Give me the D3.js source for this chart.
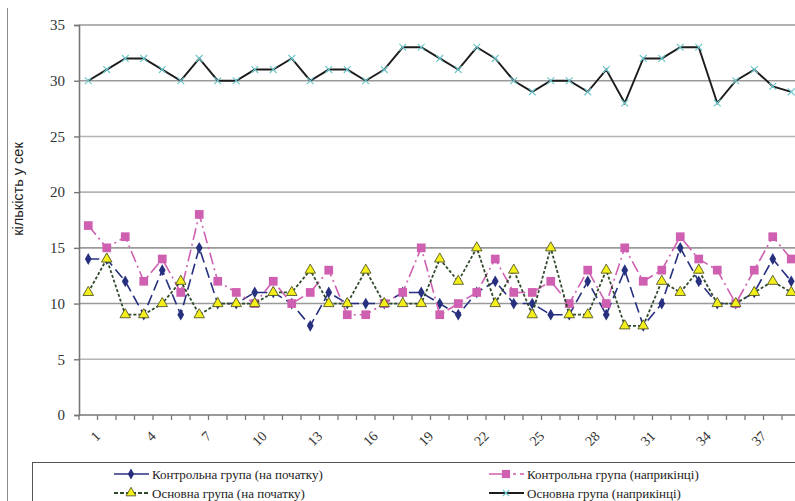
<!DOCTYPE html>
<html>
<head>
<meta charset="utf-8">
<script src="https://cdn.jsdelivr.net/npm/d3@7"></script>
<style>
  html, body { margin: 0; padding: 0; background: #fff; overflow: hidden; }
  svg { display: block; }
  .serif { font-family: "Liberation Serif", "Times New Roman", serif; }
</style>
</head>
<body>
<div id="chart"></div>
<script>
// Values (39 participants)
const categories = d3.range(1, 40).map(String);
const tickLabels = ["1", "4", "7", "10", "13", "16", "19", "22", "25", "28", "31", "34", "37"];
const yTicks = [0, 5, 10, 15, 20, 25, 30, 35];

const controlStart = [14, 14, 12, 9, 13, 9, 15, 10, 10, 11, 11, 10, 8, 11, 10, 10, 10, 11, 11, 10,
                      9, 11, 12, 10, 10, 9, 9, 12, 9, 13, 8, 10, 15, 12, 10, 10, 11, 14, 12];
const controlEnd = [17, 15, 16, 12, 14, 11, 18, 12, 11, 10, 12, 10, 11, 13, 9, 9, 10, 11, 15, 9,
                    10, 11, 14, 11, 11, 12, 10, 13, 10, 15, 12, 13, 16, 14, 13, 10, 13, 16, 14];
const mainStart = [11, 14, 9, 9, 10, 12, 9, 10, 10, 10, 11, 11, 13, 10, 10, 13, 10, 10, 10, 14,
                   12, 15, 10, 13, 9, 15, 9, 9, 13, 8, 8, 12, 11, 13, 10, 10, 11, 12, 11];
const mainEnd = [30, 31, 32, 32, 31, 30, 32, 30, 30, 31, 31, 32, 30, 31, 31, 30, 31, 33, 33, 32,
                 31, 33, 32, 30, 29, 30, 30, 29, 31, 28, 32, 32, 33, 33, 28, 30, 31, 29.5, 29];

const seriesNames = ["Контрольна група (на початку)", "Контрольна група (наприкінці)",
                     "Основна група (на початку)", "Основна група (наприкінці)"];

const width = 795, height = 501;
const margin = { left: 79, top: 25, bottom: 86 };
const band = 18.5;
const serifFont = "'Liberation Serif', 'Times New Roman', serif";

const series = [
  { name: seriesNames[0], values: controlStart, color: "#27307f", dash: "11,5", legendDash: null, width: 1.6, marker: "diamond" },
  { name: seriesNames[1], values: controlEnd, color: "#cf5fb0", dash: "12,4,2,4", legendDash: "20,4,3,4", width: 1.6, marker: "square" },
  { name: seriesNames[2], values: mainStart, color: "#2f4a2a", dash: "3,2", legendDash: "4,2", width: 1.8, marker: "triangle" },
  { name: seriesNames[3], values: mainEnd, color: "#1c1c1c", dash: null, legendDash: null, width: 1.9, marker: "cross" }
];

const svg = d3.select("#chart").append("svg")
  .attr("width", width)
  .attr("height", height)
  .attr("viewBox", [0, 0, width, height]);

// x: categories, points sit between tick marks
const x = d3.scaleBand()
  .domain(categories)
  .range([margin.left, margin.left + categories.length * band])
  .paddingInner(0).paddingOuter(0);
const cx = (d) => x(d) + x.bandwidth() / 2;

const y = d3.scaleLinear()
  .domain([0, 35])
  .range([height - margin.bottom, margin.top]);

// chart border on the left
svg.append("line")
  .attr("x1", 7.5).attr("x2", 7.5).attr("y1", 8).attr("y2", height)
  .attr("stroke", "#8a8a8a").attr("stroke-width", 1);

// gridlines
svg.append("g")
  .selectAll("line")
  .data(yTicks.filter((t) => t > 0))
  .join("line")
    .attr("x1", margin.left).attr("x2", width)
    .attr("y1", (d) => y(d)).attr("y2", (d) => y(d))
    .attr("stroke", (d) => (d === 35 || d === 30 || d === 15 || d === 10) ? "#9a9a9a" : "#b4b4b4")
    .attr("stroke-width", 1.6);

// y axis
svg.append("g")
  .attr("transform", `translate(${margin.left},0)`)
  .call(d3.axisLeft(y).tickValues(yTicks).tickSize(5).tickPadding(9))
  .call((g) => g.select(".domain").attr("stroke", "#777").attr("stroke-width", 1.6))
  .call((g) => g.selectAll(".tick line").attr("stroke", "#777").attr("stroke-width", 1.4))
  .call((g) => g.selectAll(".tick text")
      .style("font-family", serifFont)
      .style("font-size", "15px")
      .attr("fill", "#333"));

svg.append("text")
  .attr("transform", `translate(23, ${189}) rotate(-90)`)
  .attr("text-anchor", "middle")
  .style("font-family", "'Liberation Sans', Arial, sans-serif")
  .style("font-size", "14.5px")
  .attr("fill", "#222")
  .text("кількість у сек");

// x axis
const xAxis = svg.append("g")
  .attr("transform", `translate(0,${y(0)})`);
xAxis.append("line")
  .attr("x1", margin.left).attr("x2", width)
  .attr("stroke", "#777").attr("stroke-width", 1.6);
xAxis.selectAll(".edge")
  .data(categories)
  .join("line")
    .attr("class", "edge")
    .attr("x1", (d) => x(d)).attr("x2", (d) => x(d))
    .attr("y1", 0).attr("y2", 5)
    .attr("stroke", "#777").attr("stroke-width", 1.3);
xAxis.selectAll(".lbl")
  .data(tickLabels)
  .join("g")
    .attr("class", "lbl")
    .attr("transform", (d) => `translate(${cx(d) + 6},${15})`)
  .append("text")
    .attr("transform", "rotate(-45)")
    .attr("text-anchor", "end")
    .attr("dy", "0.7em")
    .style("font-family", serifFont)
    .style("font-size", "14px")
    .attr("fill", "#333")
    .text((d) => d);

// markers
function drawMarker(g, type, color, size) {
  if (type === "diamond") {
    g.append("path")
      .attr("d", d3.symbol(d3.symbolDiamond, size * 5)())
      .attr("fill", color);
  } else if (type === "square") {
    g.append("path")
      .attr("d", d3.symbol(d3.symbolSquare, size * 9.5)())
      .attr("fill", color);
  } else if (type === "triangle") {
    g.append("path")
      .attr("d", d3.symbol(d3.symbolTriangle, size * 6)())
      .attr("fill", "#f4ee1a")
      .attr("stroke", "#54582a")
      .attr("stroke-width", 0.9);
  } else {
    g.append("path")
      .attr("d", d3.symbol(d3.symbolTimes, size * 4)())
      .attr("fill", "none")
      .attr("stroke", "#6fc8cc")
      .attr("stroke-width", 1.2);
  }
}

const line = d3.line().x((d, i) => cx(categories[i])).y((d) => y(d));

series.forEach((s) => {
  const g = svg.append("g");
  g.append("path")
    .datum(s.values)
    .attr("fill", "none")
    .attr("stroke", s.color)
    .attr("stroke-width", s.width)
    .attr("stroke-dasharray", s.dash)
    .attr("d", line);
  g.selectAll(".pt")
    .data(s.values)
    .join("g")
      .attr("class", "pt")
      .attr("transform", (d, i) => `translate(${cx(categories[i])},${y(d)})`)
      .each(function () { drawMarker(d3.select(this), s.marker, s.color, 8); });
});

// legend
const legend = svg.append("g");
legend.append("rect")
  .attr("x", 32.5).attr("y", 462.5)
  .attr("width", 800).attr("height", 60)
  .attr("fill", "#fff")
  .attr("stroke", "#555").attr("stroke-width", 1);

const legendPos = [[114, 474], [489, 474], [114, 493], [489, 493]];
series.forEach((s, i) => {
  const [lx, ly] = legendPos[i];
  const g = legend.append("g").attr("transform", `translate(${lx},${ly})`);
  g.append("line")
    .attr("x1", 0).attr("x2", 35)
    .attr("stroke", s.color)
    .attr("stroke-width", s.width)
    .attr("stroke-dasharray", s.legendDash);
  const m = g.append("g").attr("transform", "translate(17,0)");
  drawMarker(m, s.marker, s.color, 7);
  g.append("text")
    .attr("x", 38)
    .attr("dy", "0.35em")
    .style("font-family", serifFont)
    .style("font-size", "13px")
    .attr("fill", "#222")
    .text(s.name);
});
</script>
</body>
</html>
